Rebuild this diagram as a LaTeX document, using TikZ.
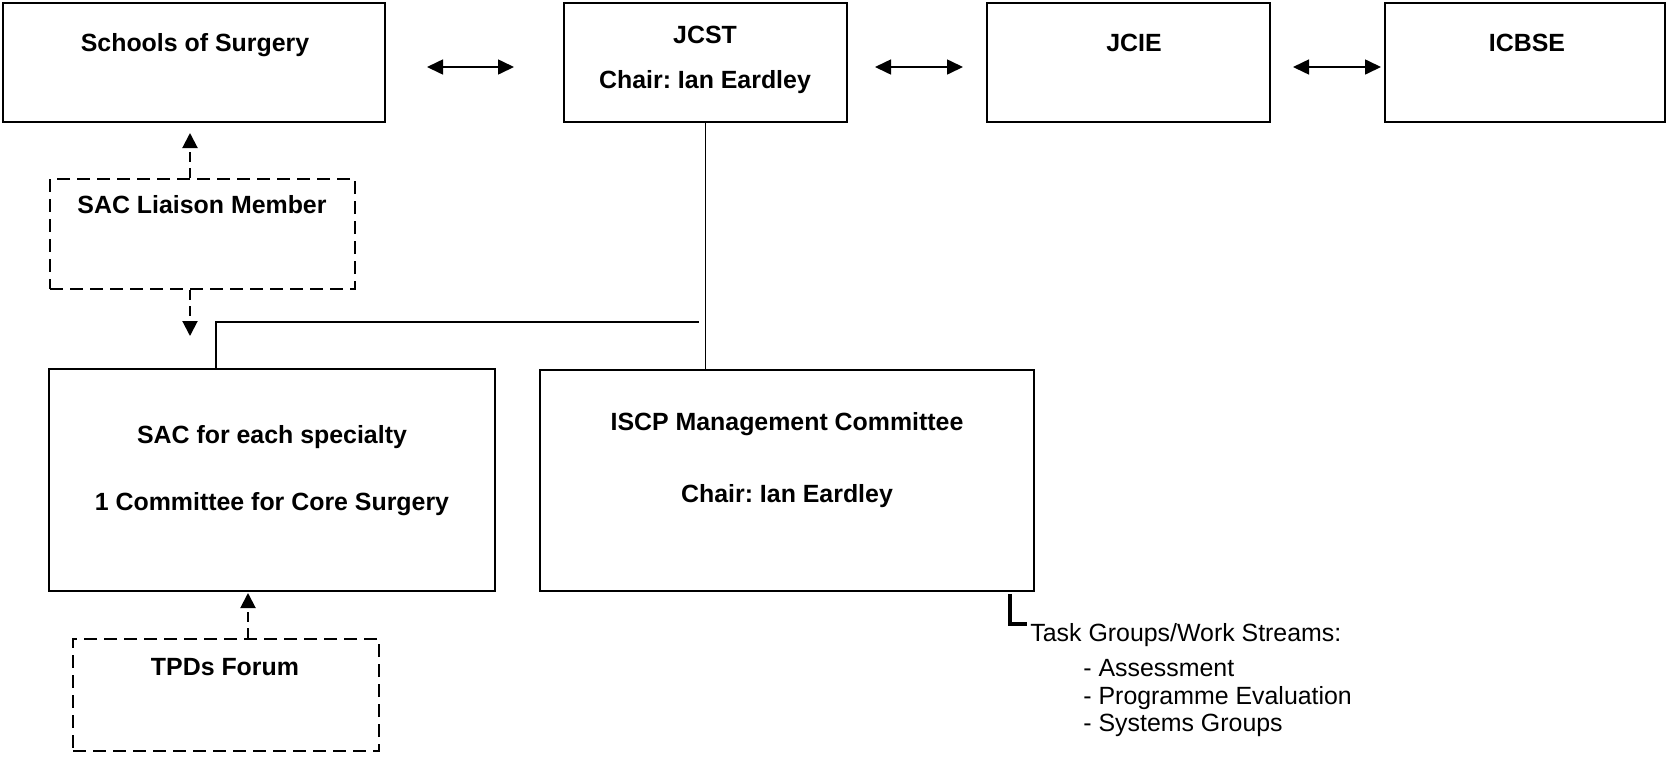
\documentclass[tikz,border=0pt]{standalone}
\usepackage{fontspec}
\setmainfont{Liberation Sans}
\usetikzlibrary{arrows.meta,fit}
\frenchspacing
\begin{document}
\begin{tikzpicture}[x=0.5pt,y=-0.5pt,
  box/.style={draw, line width=1pt, inner sep=0pt},
  dbox/.style={box, line width=1.1pt, dash pattern=on 6.5pt off 3.5pt},
  lbl/.style={font=\fontsize{12.45pt}{15pt}\selectfont\bfseries, anchor=base, inner sep=0pt},
  txt/.style={font=\fontsize{12.45pt}{15pt}\selectfont, anchor=base west, inner sep=0pt},
  dbl/.style={{Triangle[length=8pt,width=7.5pt]}-{Triangle[length=8pt,width=7.5pt]}, line width=0.8pt},
  darr/.style={-{Triangle[length=7.5pt,width=7.5pt]}, line width=1pt, dash pattern=on 5pt off 3pt},
  conn/.style={line width=0.8pt}]
\useasboundingbox (0,0) rectangle (1668,756);

% boxes
\node[box, fit={(3,3) (385,122)}] (schools) {};
\node[box, fit={(564,3) (847,122)}] (jcst) {};
\node[box, fit={(987,3) (1270,122)}] (jcie) {};
\node[box, fit={(1385,3) (1665,122)}] (icbse) {};
\node[dbox, fit={(50,179) (355,289)}] (liaison) {};
\node[box, fit={(49,369) (495,591)}] (sac) {};
\node[box, fit={(540,370) (1034,591)}] (iscp) {};
\node[dbox, fit={(73,639) (379,751)}] (tpds) {};

% labels
\node[lbl] (tschools) at (195,51) {Schools of Surgery};
\node[lbl] (tjcst) at (705,43) {JCST};
\node[lbl] (tjcstc) at (705,88) {Chair: Ian Eardley};
\node[lbl] (tjcie) at (1134,51) {JCIE};
\node[lbl] (ticbse) at (1527,51) {ICBSE};
\node[lbl] (tliaison) at (202,213) {SAC Liaison Member};
\node[lbl] (tsac1) at (272,443) {SAC for each specialty};
\node[lbl] (tsac2) at (272,510) {1 Committee for Core Surgery};
\node[lbl] (tiscp1) at (787,430) {ISCP Management Committee};
\node[lbl] (tiscp2) at (787,502) {Chair: Ian Eardley};
\node[lbl] (ttpds) at (225,675) {TPDs Forum};

% task groups text
\node[txt] (task) at (1030,641) {Task Groups/Work Streams:};
\node[txt] (item1) at (1083,676) {- Assessment};
\node[txt] (item2) at (1083,704) {- Programme Evaluation};
\node[txt] (item3) at (1083,731) {- Systems Groups};

% double arrows
\draw[dbl, shorten <=20.5pt, shorten >=24.5pt] ([yshift=-2.25pt]schools.east) -- ([yshift=-2.25pt]jcst.west);
\draw[dbl, shorten <=13.5pt, shorten >=11.5pt] ([yshift=-2.25pt]jcst.east) -- ([yshift=-2.25pt]jcie.west);
\draw[dbl, shorten <=11pt, shorten >=1.5pt] ([yshift=-2.25pt]jcie.east) -- ([yshift=-2.25pt]icbse.west);

% dashed arrows
\draw[darr, shorten >=5pt] ([xshift=-6.25pt]liaison.north) -- ([xshift=-6.25pt]liaison.north |- schools.south);
\draw[darr, shorten >=16pt] ([xshift=-6.25pt]liaison.south) -- ([xshift=-6.25pt]liaison.south |- sac.north);
\draw[darr, shorten >=0.5pt] ([xshift=11pt]tpds.north) -- ([xshift=11pt]tpds.north |- sac.south);

% solid connectors
\coordinate (hend) at (699,322);
\draw[conn] (jcst.south) -- (jcst.south |- iscp.north);
\draw[conn] ([xshift=-28pt]sac.north) |- (hend);

% bracket
\coordinate (brtop) at (1010,594);
\coordinate (brend) at (1027,624);
\draw[line width=2pt] (brtop) |- (brend);
\end{tikzpicture}
\end{document}
